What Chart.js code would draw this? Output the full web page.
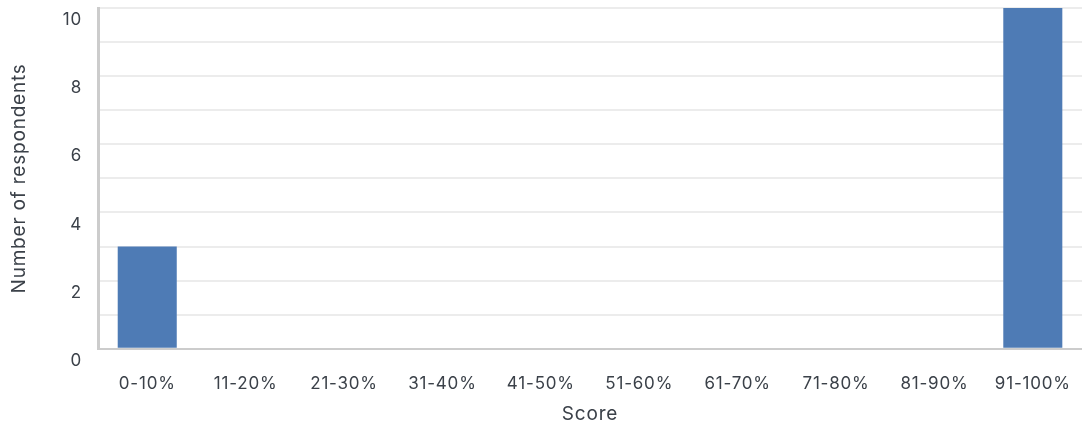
<!DOCTYPE html>
<html>
<head>
<meta charset="utf-8">
<script src="https://cdn.jsdelivr.net/npm/chart.js@4/dist/chart.umd.min.js"></script>
<style>
  html, body { margin: 0; padding: 0; background: #fff; }
  #wrap { width: 1082px; height: 428px; position: relative; }
</style>
</head>
<body>
<div id="wrap"><canvas id="chart"></canvas></div>
<script>
const categories = ["0-10%", "11-20%", "21-30%", "31-40%", "41-50%", "51-60%", "61-70%", "71-80%", "81-90%", "91-100%"];
const respondents = [3, 0, 0, 0, 0, 0, 0, 0, 0, 10];
const yTicks = [0, 2, 4, 6, 8, 10];

const textColor = "#3b4149";
Chart.defaults.font.family = "Inter, 'Noto Sans', sans-serif";

// the reference text is set a little wider than plain Inter
const spacing = {
  id: "spacing",
  beforeLayout(chart) { chart.ctx.letterSpacing = "0.8px"; },
  beforeDraw(chart) { chart.ctx.letterSpacing = "0.8px"; },
};

new Chart(document.getElementById("chart"), {
  type: "bar",
  data: {
    labels: categories,
    datasets: [
      {
        label: "Respondents",
        data: respondents,
        backgroundColor: "#4e7bb5",
        categoryPercentage: 0.6,
        barPercentage: 1,
      },
    ],
  },
  plugins: [spacing],
  options: {
    responsive: true,
    maintainAspectRatio: false,
    animation: false,
    layout: { padding: { top: 8, right: 0, bottom: 2, left: 4 } },
    plugins: { legend: { display: false }, tooltip: { enabled: false } },
    scales: {
      x: {
        afterFit(scale) { scale.paddingRight = 0; scale.paddingLeft = 0; },
        grid: { display: false },
        border: { color: "#cccccc", width: 2 },
        ticks: { color: textColor, font: { size: 17 }, padding: 17, maxRotation: 0 },
        title: { display: true, text: "Score", color: textColor, font: { size: 19 }, padding: { top: -8, bottom: 0 } },
      },
      y: {
        min: 0,
        max: 10,
        afterFit(scale) { scale.paddingTop = 0; },
        grid: { color: "#ececec", lineWidth: 2, drawTicks: false },
        border: { color: "#cccccc", width: 3 },
        ticks: {
          stepSize: 1,
          color: textColor,
          font: { size: 17 },
          padding: 16,
          labelOffset: 12,
          callback: (v) => (yTicks.includes(v) ? v : ""),
        },
        title: { display: true, text: "Number of respondents", color: textColor, font: { size: 19 }, padding: { bottom: 16 } },
      },
    },
  },
});
</script>
</body>
</html>
